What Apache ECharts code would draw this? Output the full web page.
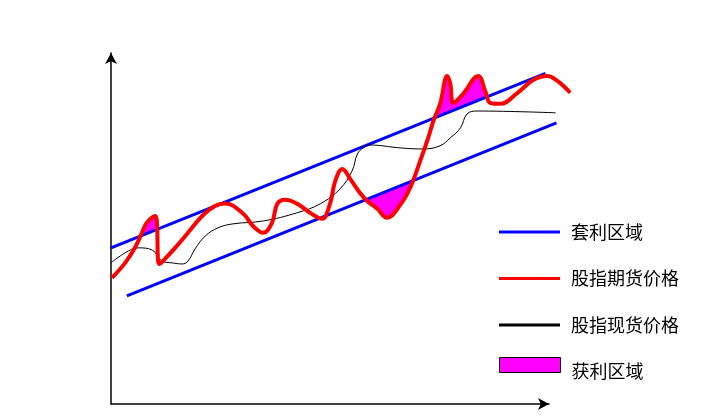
<!DOCTYPE html>
<html>
<head>
<meta charset="utf-8">
<script src="https://cdn.jsdelivr.net/npm/echarts@6/dist/echarts.min.js"></script>
<style>
  html, body { margin: 0; padding: 0; background: #fff; }
  #chart { width: 720px; height: 420px; }
</style>
</head>
<body>
<div id="chart"></div>
<script>
// 套利区域上下边界（直线）
const upperBand = [[0, 43.6], [98.2, 92.3]];
const lowerBand = [[3.6, 30.2], [100.7, 78.5]];

// 股指期货价格
const futures = [
  [0.2, 35.2], [3.2, 39.4], [5.4, 43.6], [7.0, 47.8], [8.1, 50.6], [10.0, 52.5],
  [10.4, 50.3], [10.6, 40.8], [10.9, 39.1], [12.2, 40.5], [14.5, 43.6], [17.4, 47.8],
  [20.6, 52.5], [23.5, 55.3], [25.8, 56.0], [29.9, 53.1], [32.1, 49.7], [34.4, 47.8],
  [36.4, 50.6], [37.6, 55.9], [39.4, 57.0], [42.1, 55.9], [45.0, 53.4], [47.7, 51.7],
  [49.5, 55.9], [50.7, 62.3], [52.3, 65.6], [54.1, 62.8], [56.3, 58.9], [57.9, 56.7],
  [60.2, 54.5], [62.4, 52.0], [65.4, 55.6], [67.6, 60.3], [69.9, 67.9], [71.7, 74.3],
  [72.9, 79.1], [74.4, 83.8], [76.0, 91.6], [76.7, 89.4], [77.4, 84.1], [79.6, 86.6],
  [83.0, 91.6], [84.6, 87.4], [85.7, 84.1], [88.0, 83.8], [91.9, 86.9], [95.5, 90.5],
  [98.6, 91.6], [100.9, 90.2], [103.8, 86.9]
];

// 股指现货价格
const spot = [
  [0, 39.4], [3.2, 42.2], [6.1, 43.6], [9.3, 43.0], [11.5, 39.9], [13.8, 39.4],
  [16.1, 39.1], [17.4, 39.9], [19.0, 43.3], [21.3, 46.9], [24.2, 49.2], [27.6, 50.3],
  [34.4, 51.1], [42.1, 53.4], [47.3, 55.9], [51.8, 60.1], [54.5, 65.1], [55.7, 69.8],
  [57.0, 71.5], [58.6, 72.3], [65.4, 71.5], [70.6, 71.2], [74.4, 72.1], [76.7, 74.3],
  [79.0, 77.1], [80.5, 81.0], [82.8, 81.8], [100.5, 81.3]
];

const legendNames = ['套利区域', '股指期货价格', '股指现货价格', '获利区域'];

function bandAt(line, x)
{
  const [[x0, y0], [x1, y1]] = line;
  return y0 + (y1 - y0) * (x - x0) / (x1 - x0);
}

// 期货价格越过套利区域边界的部分
function profitAreas()
{
  const polys = [];
  [[upperBand, 1], [lowerBand, -1]].forEach(([line, sign]) =>
  {
    let cur = null;
    let prevD = null;
    futures.forEach(([x, y], i) =>
    {
      const d = sign * (y - bandAt(line, x));
      if (i > 0 && (prevD > 0) !== (d > 0))
      {
        const [px, py] = futures[i - 1];
        const t = prevD / (prevD - d);
        const cx = px + t * (x - px);
        const cp = [cx, bandAt(line, cx)];
        if (cur)
        {
          cur.push(cp);
          polys.push(cur);
          cur = null;
        }
        else
        {
          cur = [cp];
        }
      }
      if (d > 0)
      {
        if (!cur) cur = [];
        cur.push([x, y]);
      }
      prevD = d;
    });
  });
  return polys;
}

const areas = profitAreas();
const chart = echarts.init(document.getElementById('chart'));

const axisCommon = {
  type: 'value',
  min: 0,
  axisLine: {
    show: true,
    onZero: false,
    symbol: ['none', 'arrow'],
    symbolSize: [9, 11],
    lineStyle: { color: '#000', width: 1.5 }
  },
  axisTick: { show: false },
  axisLabel: { show: false },
  splitLine: { show: false }
};
// 数据用的坐标系：与可见坐标轴同比例，只是向右多留一段
const hiddenAxis = { type: 'value', min: 0, show: false, splitLine: { show: false } };

const legendText = { fontFamily: 'Noto Sans CJK SC', fontSize: 18, color: '#000', padding: [0, 0, 0, 6] };

chart.setOption({
  animation: false,
  backgroundColor: '#fff',
  grid: [
    { left: 111, right: 171, top: 53, bottom: 16 },
    { left: 111, right: 144.5, top: 53, bottom: 16 }
  ],
  xAxis: [
    Object.assign({}, axisCommon, { max: 99, gridIndex: 0 }),
    Object.assign({}, hiddenAxis, { max: 105, gridIndex: 1 })
  ],
  yAxis: [
    Object.assign({}, axisCommon, { max: 98, gridIndex: 0 }),
    Object.assign({}, hiddenAxis, { max: 98, gridIndex: 1 })
  ],
  legend: [
    {
      orient: 'vertical',
      left: 494,
      top: 218,
      itemWidth: 61,
      itemHeight: 3,
      itemGap: 28.5,
      icon: 'rect',
      textStyle: legendText,
      data: legendNames.slice(0, 3)
    },
    {
      orient: 'vertical',
      left: 494,
      top: 352,
      itemWidth: 61,
      itemHeight: 15,
      formatter: '{a|{name}}',
      textStyle: Object.assign({}, legendText, {
        rich: { a: { fontFamily: 'Noto Sans CJK SC', fontSize: 18, color: '#000', padding: [12, 0, 0, 0] } }
      }),
      data: [{ name: legendNames[3], icon: 'rect', itemStyle: { borderColor: '#000', borderWidth: 1 } }]
    }
  ],
  series: [
    {
      name: legendNames[3],
      type: 'custom',
      xAxisIndex: 1,
      yAxisIndex: 1,
      data: [[0, 0]],
      itemStyle: { color: '#ff00ff' },
      z: 1,
      renderItem: function (params, api)
      {
        return {
          type: 'group',
          children: areas.map(poly => ({
            type: 'polygon',
            shape: { points: poly.map(p => api.coord(p)) },
            style: { fill: '#ff00ff' }
          }))
        };
      }
    },
    {
      name: legendNames[0],
      type: 'line',
      xAxisIndex: 1,
      yAxisIndex: 1,
      data: upperBand,
      symbol: 'none',
      z: 2,
      lineStyle: { color: '#0000ff', width: 3 },
      itemStyle: { color: '#0000ff' }
    },
    {
      name: legendNames[0],
      type: 'line',
      xAxisIndex: 1,
      yAxisIndex: 1,
      data: lowerBand,
      symbol: 'none',
      z: 2,
      lineStyle: { color: '#0000ff', width: 3 },
      itemStyle: { color: '#0000ff' }
    },
    {
      name: legendNames[2],
      type: 'line',
      xAxisIndex: 1,
      yAxisIndex: 1,
      data: spot,
      symbol: 'none',
      smooth: 0.4,
      z: 3,
      lineStyle: { color: '#000', width: 1 },
      itemStyle: { color: '#000' }
    },
    {
      name: legendNames[1],
      type: 'line',
      xAxisIndex: 1,
      yAxisIndex: 1,
      data: futures,
      symbol: 'none',
      smooth: 0.4,
      z: 4,
      lineStyle: { color: '#ff0000', width: 4 },
      itemStyle: { color: '#ff0000' }
    }
  ]
});
</script>
</body>
</html>
